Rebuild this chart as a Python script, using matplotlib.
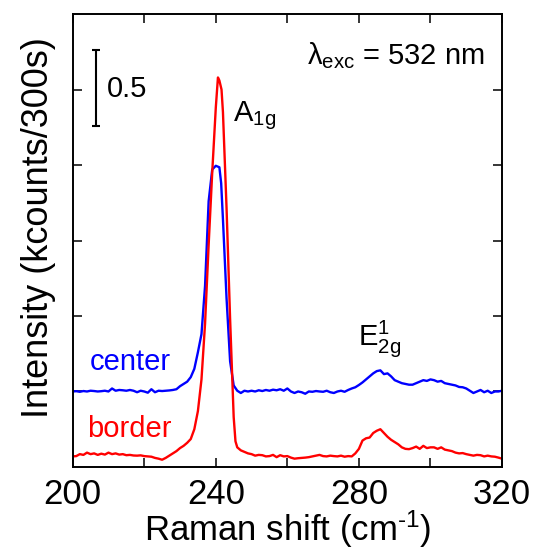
import matplotlib
matplotlib.use("Agg")
import matplotlib.pyplot as plt

plt.rcParams['font.family'] = ['Liberation Sans', 'DejaVu Sans']
plt.rcParams['mathtext.fontset'] = 'custom'
plt.rcParams['mathtext.rm'] = 'Liberation Sans'
plt.rcParams['mathtext.it'] = 'Liberation Sans:italic'

# Raman shift (cm-1) and intensity (kcounts/300s)
x_center = list(range(200, 241)) + [241, 241.5] + list(range(242, 321))
center = [0.500, 0.502, 0.498, 0.503, 0.500, 0.505, 0.503, 0.500, 0.502, 0.505,
          0.500, 0.520, 0.505, 0.510, 0.508, 0.505, 0.510, 0.505, 0.495, 0.505,
          0.500, 0.492, 0.515, 0.495, 0.505, 0.503, 0.505, 0.507, 0.510, 0.515,
          0.535, 0.550, 0.565, 0.595, 0.650, 0.760, 0.880, 1.200, 1.760, 1.970,
          1.995, 1.985, 1.880, 1.640, 1.120, 0.700, 0.540, 0.505, 0.490, 0.505,
          0.500, 0.505, 0.500, 0.508, 0.503, 0.510, 0.505, 0.512, 0.508, 0.515,
          0.505, 0.520, 0.500, 0.490, 0.500, 0.495, 0.485, 0.500, 0.498, 0.503,
          0.500, 0.498, 0.505, 0.495, 0.490, 0.500, 0.505, 0.498, 0.510, 0.520,
          0.528, 0.543, 0.560, 0.580, 0.600, 0.620, 0.635, 0.640, 0.615, 0.620,
          0.600, 0.575, 0.565, 0.555, 0.550, 0.545, 0.545, 0.555, 0.565, 0.575,
          0.570, 0.580, 0.575, 0.565, 0.570, 0.555, 0.550, 0.545, 0.540, 0.530,
          0.528, 0.520, 0.505, 0.490, 0.500, 0.510, 0.495, 0.505, 0.490, 0.500,
          0.500, 0.505]

x_border = list(range(200, 241)) + [240.6, 241, 241.6, 242, 243, 244, 245, 245.5] + list(range(246, 321))
border = [0.070, 0.072, 0.085, 0.080, 0.095, 0.085, 0.090, 0.080, 0.088, 0.082,
          0.095, 0.085, 0.090, 0.082, 0.085, 0.078, 0.080, 0.076, 0.075, 0.077,
          0.072, 0.070, 0.068, 0.060, 0.055, 0.048, 0.060, 0.075, 0.090, 0.105,
          0.125, 0.140, 0.160, 0.185, 0.250, 0.370, 0.580, 0.950, 1.470, 1.950,
          2.380, 2.580, 2.560, 2.500, 2.350, 1.720, 0.980, 0.330, 0.170,
          0.130, 0.110, 0.100, 0.090, 0.085, 0.075, 0.080, 0.078, 0.070, 0.072,
          0.080, 0.065, 0.078, 0.070, 0.072, 0.062, 0.055, 0.058, 0.060, 0.062,
          0.065, 0.070, 0.075, 0.080, 0.072, 0.070, 0.075, 0.072, 0.070, 0.075,
          0.068, 0.072, 0.070, 0.090, 0.120, 0.175, 0.190, 0.195, 0.225, 0.240,
          0.250, 0.225, 0.200, 0.180, 0.165, 0.150, 0.130, 0.120, 0.118, 0.125,
          0.135, 0.120, 0.140, 0.125, 0.130, 0.130, 0.120, 0.130, 0.115, 0.110,
          0.105, 0.095, 0.090, 0.092, 0.085, 0.080, 0.075, 0.080, 0.078, 0.070,
          0.075, 0.070, 0.068, 0.062, 0.055]

xticks = [200, 220, 240, 260, 280, 300, 320]
xticklabels = ['200', '', '240', '', '280', '', '320']
yticks = [0.5, 1.0, 1.5, 2.0, 2.5]

fig = plt.figure(figsize=(5.36, 5.51), dpi=100)
ax = fig.add_axes((0.1356, 0.1525, 0.801, 0.822))

ax.plot(x_center, center, color='#0000ff', lw=1.7)
ax.plot(x_border, border, color='#ff0000', lw=1.7)

ax.set_xlim(200, 320)
ax.set_ylim(0, 3.0)
ax.set_xticks(xticks)
ax.set_xticklabels(xticklabels)
ax.set_yticks(yticks)
ax.set_yticklabels([])
ax.tick_params(direction='in', length=6.5, width=1.1, top=True, right=True,
               labelsize=25, pad=8)
for s in ax.spines.values():
    s.set_linewidth(1.4)

ax.set_xlabel(r'Raman shift (cm$^{\text{-}1}$)', fontsize=25, labelpad=-2)
ax.set_ylabel('Intensity (kcounts/300s)', fontsize=26)
ax.yaxis.set_label_coords(-0.04, 0.529)

# scale bar
ax.errorbar([206.5], [2.51], yerr=[0.25], color='black', lw=1.5, capsize=3, capthick=1.5)
ax.text(209.6, 2.45, '0.5', fontsize=21, ha='left', va='baseline')

ax.text(0.96, 0.89, r'$\mathrm{λ_{exc}}$ = 532 nm', transform=ax.transAxes,
        fontsize=21, ha='right', va='baseline')
ax.text(244.8, 2.29, r'$\mathrm{A_{1g}}$', fontsize=21, va='baseline')
ax.text(279.7, 0.808, r'$\mathrm{E^{1}_{2g}}$', fontsize=21, va='baseline')
ax.text(204.8, 0.642, 'center', color='#0000ff', fontsize=21, va='baseline')
ax.text(204.0, 0.199, 'border', color='#ff0000', fontsize=21, va='baseline')

fig.savefig('out.png', dpi=100)
